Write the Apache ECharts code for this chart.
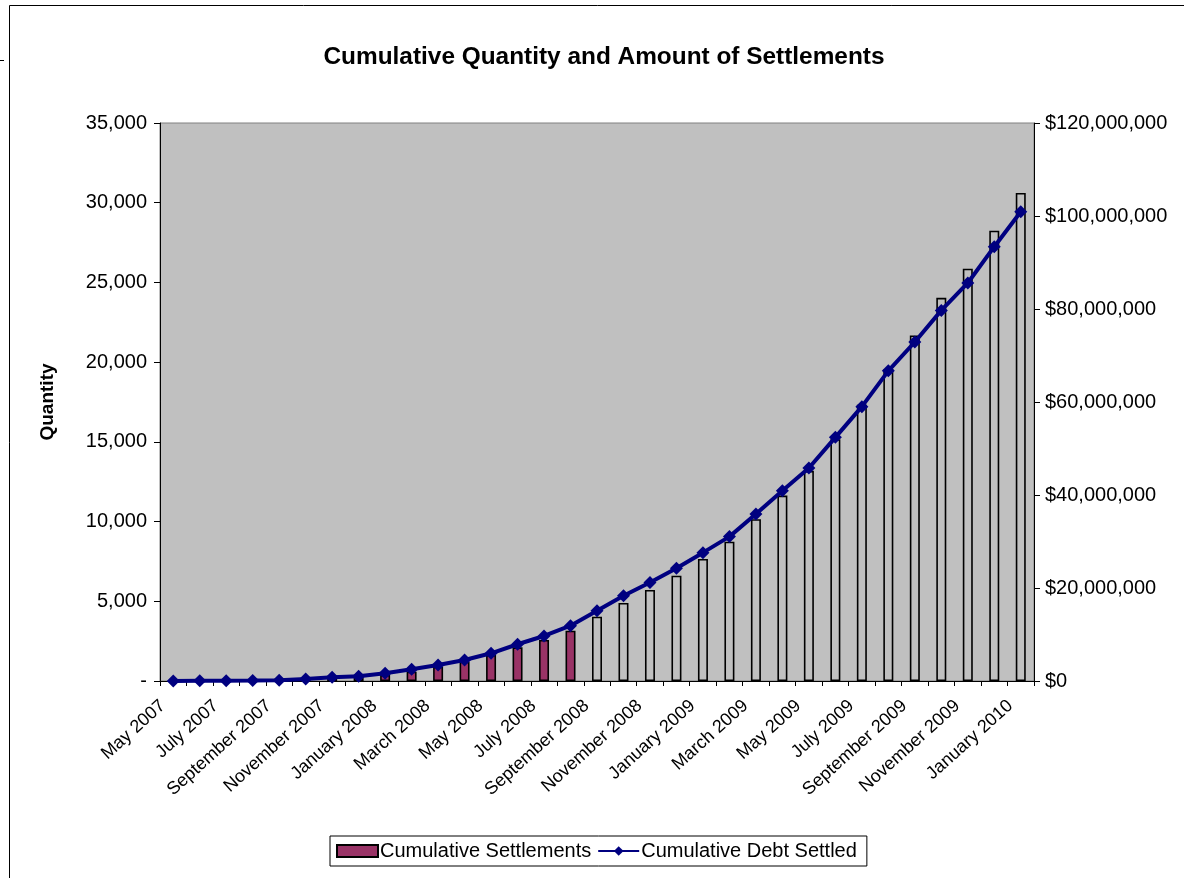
<!DOCTYPE html>
<html>
<head>
<meta charset="utf-8">
<script src="https://cdn.jsdelivr.net/npm/echarts@6/dist/echarts.min.js"></script>
<style>
  html, body { margin: 0; padding: 0; background: #ffffff; }
  #chart { width: 1184px; height: 878px; }
</style>
</head>
<body>
<div id="chart"></div>
<script>
// Monthly categories, May 2007 through January 2010
const months = [
  'May 2007', 'June 2007', 'July 2007', 'August 2007', 'September 2007', 'October 2007',
  'November 2007', 'December 2007', 'January 2008', 'February 2008', 'March 2008', 'April 2008',
  'May 2008', 'June 2008', 'July 2008', 'August 2008', 'September 2008', 'October 2008',
  'November 2008', 'December 2008', 'January 2009', 'February 2009', 'March 2009', 'April 2009',
  'May 2009', 'June 2009', 'July 2009', 'August 2009', 'September 2009', 'October 2009',
  'November 2009', 'December 2009', 'January 2010'
];

// Cumulative number of settlements (left axis)
const cumulativeSettlements = [
  10, 20, 30, 45, 60, 90, 150, 220, 380, 580, 900, 1210,
  1630, 2115, 2573, 3157, 4035, 4895, 5711, 6608, 7656, 8742, 10148, 11629,
  13180, 15168, 17321, 19562, 21671, 24037, 25857, 28242, 30608
];

// Cumulative debt settled, in millions of dollars (right axis)
const cumulativeDebtMillions = [
  0.02, 0.04, 0.06, 0.1, 0.15, 0.43, 0.8, 1.0, 1.66, 2.52, 3.44, 4.52,
  5.96, 7.9, 9.68, 11.9, 15.1, 18.35, 21.2, 24.25, 27.6, 31.05, 35.9, 40.9,
  45.8, 52.4, 59.0, 66.7, 72.9, 79.7, 85.6, 93.4, 100.9
];

// Months from this index on are drawn as hollow bars
const firstHollowIndex = 16;

const FONT = '"Liberation Sans", Arial, sans-serif';
const PURPLE = '#993366';
const NAVY = '#000080';
const PLOT_BG = '#C0C0C0';

const barData = cumulativeSettlements.map((v, i) => (
  i >= firstHollowIndex
    ? { value: v, itemStyle: { color: PLOT_BG, borderColor: '#000000', borderWidth: 1.6 } }
    : v
));
const debtData = cumulativeDebtMillions.map(v => Math.round(v * 1e6));

function withCommas(n) {
  return String(n).replace(/\B(?=(\d{3})+(?!\d))/g, ',');
}

const chart = echarts.init(document.getElementById('chart'), null, { renderer: 'canvas' });

chart.setOption({
  backgroundColor: '#ffffff',
  animation: false,
  textStyle: { fontFamily: FONT, color: '#000000' },
  title: {
    text: 'Cumulative Quantity and Amount of Settlements',
    left: 599,
    textAlign: 'center',
    top: 40,
    textStyle: { fontFamily: FONT, fontSize: 24.4, fontWeight: 'bold', color: '#000000' }
  },
  graphic: [
    {
      type: 'rect',
      shape: { x: 9.5, y: 5.5, width: 1200, height: 900 },
      style: { fill: null, stroke: '#000000', lineWidth: 1 },
      silent: true
    },
    {
      type: 'line',
      shape: { x1: 0, y1: 60.5, x2: 4, y2: 60.5 },
      style: { stroke: '#000000', lineWidth: 1 },
      silent: true
    }
  ],
  legend: {
    left: 330,
    top: 836,
    padding: [5, 10, 5, 6],
    itemGap: 6,
    itemWidth: 41,
    itemHeight: 12,
    backgroundColor: '#ffffff',
    borderColor: '#000000',
    borderWidth: 1,
    borderRadius: 0,
    textStyle: { fontFamily: FONT, fontSize: 20, color: '#000000', padding: [0, 0, 0, -3] },
    data: [
      { name: 'Cumulative Settlements', icon: 'rect' },
      { name: 'Cumulative Debt Settled' }
    ]
  },
  grid: {
    left: 160,
    right: 150,
    top: 123,
    bottom: 197,
    show: true,
    backgroundColor: PLOT_BG,
    borderColor: '#808080',
    borderWidth: 1
  },
  xAxis: {
    type: 'category',
    data: months,
    boundaryGap: true,
    axisLine: { show: true, lineStyle: { color: '#000000', width: 1 } },
    axisTick: { show: true, interval: 0, length: 5, inside: false, lineStyle: { color: '#000000' } },
    axisLabel: {
      interval: 1,
      rotate: 42,
      margin: 13,
      padding: [0, 14, 0, 0],
      fontFamily: FONT,
      fontSize: 18,
      color: '#000000'
    },
    splitLine: { show: false }
  },
  yAxis: [
    {
      type: 'value',
      min: 0,
      max: 35000,
      interval: 5000,
      position: 'left',
      name: 'Quantity',
      nameLocation: 'middle',
      nameGap: 103,
      nameRotate: 90,
      nameTextStyle: { fontFamily: FONT, fontSize: 19, fontWeight: 'bold', color: '#000000' },
      axisLine: { show: true, lineStyle: { color: '#000000', width: 1 } },
      axisTick: { show: true, length: 6, lineStyle: { color: '#000000' } },
      axisLabel: {
        margin: 13,
        fontFamily: FONT,
        fontSize: 20,
        color: '#000000',
        formatter: v => (v === 0 ? '-' : withCommas(v))
      },
      splitLine: { show: false }
    },
    {
      type: 'value',
      min: 0,
      max: 120000000,
      interval: 20000000,
      position: 'right',
      axisLine: { show: true, lineStyle: { color: '#000000', width: 1 } },
      axisTick: { show: true, length: 6, lineStyle: { color: '#000000' } },
      axisLabel: {
        margin: 11,
        fontFamily: FONT,
        fontSize: 20,
        color: '#000000',
        formatter: v => '$' + withCommas(v)
      },
      splitLine: { show: false }
    }
  ],
  series: [
    {
      name: 'Cumulative Settlements',
      type: 'bar',
      yAxisIndex: 0,
      data: barData,
      barWidth: 10,
      itemStyle: { color: PURPLE, borderColor: '#000000', borderWidth: 1.6 },
      z: 2
    },
    {
      name: 'Cumulative Debt Settled',
      type: 'line',
      yAxisIndex: 1,
      data: debtData,
      symbol: 'diamond',
      symbolSize: 13,
      showSymbol: true,
      lineStyle: { color: NAVY, width: 4 },
      itemStyle: { color: NAVY },
      z: 3
    }
  ]
});
</script>
</body>
</html>
